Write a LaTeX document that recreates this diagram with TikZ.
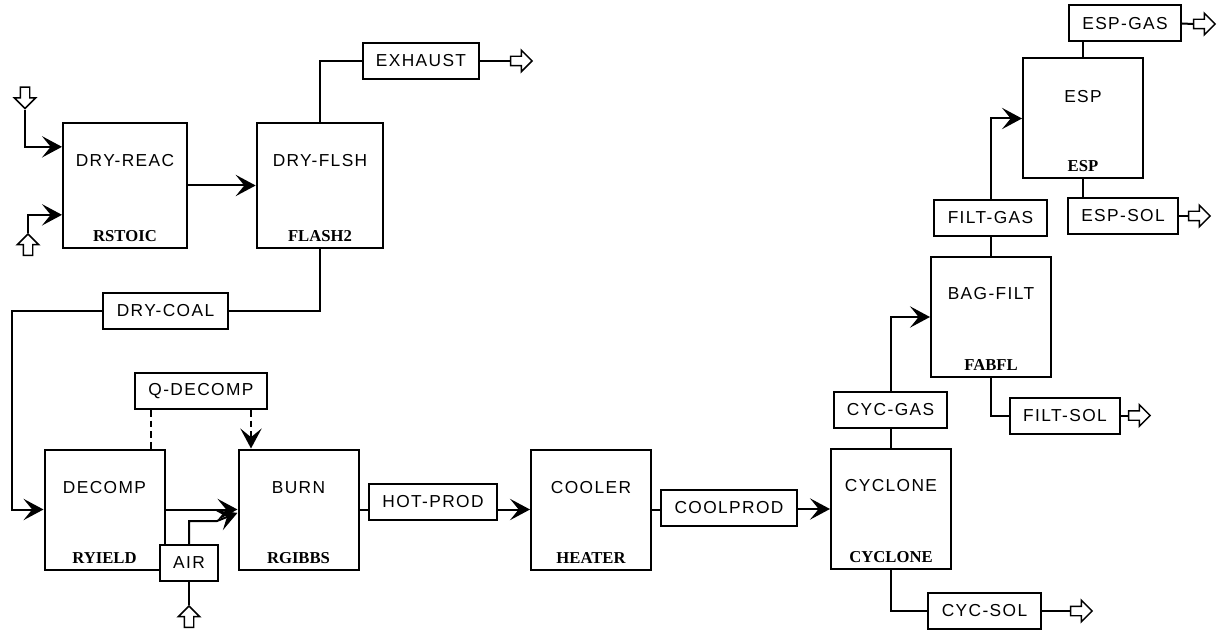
\documentclass[tikz,border=0pt]{standalone}
\usepackage{fontspec}
\usepackage{tikz}
\usetikzlibrary{arrows.meta,shapes.arrows,calc}
\newfontfamily\strmfont[LetterSpace=8]{Liberation Sans}
\newfontfamily\typefont{Liberation Serif}
\begin{document}
\begin{tikzpicture}[x=0.75pt,y=-0.75pt,>=Stealth,
  unit/.style={draw,line width=1.5pt,minimum width=90pt,minimum height=90pt,inner sep=0pt},
  strm/.style={draw,fill=white,line width=1.5pt,minimum height=27pt,inner xsep=10pt,inner ysep=0pt,font=\strmfont\fontsize{13}{15}\selectfont},
  uname/.style={inner sep=0pt,font=\strmfont\fontsize{13}{15}\selectfont},
  utype/.style={inner sep=0pt,font=\typefont\bfseries\fontsize{12.5}{14}\selectfont},
  line/.style={line width=1.5pt},
  flow/.style={line width=1.5pt,-{Stealth[length=15pt,width=16pt,inset=6.5pt]}},
  blk/.style={single arrow,draw,line width=1.1pt,fill=white,minimum height=16pt,inner xsep=0pt,inner ysep=3pt,single arrow head extend=4.5pt},
  every node/.style={inner sep=2pt}]
\useasboundingbox (0,0) rectangle (1225,631);
\node[unit,minimum width=93pt,minimum height=94pt] (dryreac) at (125,185.5) {};
\node[uname] at ([yshift=-29pt]dryreac.north) {DRY-REAC};
\node[utype] at ([yshift=10pt]dryreac.south) {RSTOIC};
\node[unit,minimum width=95pt,minimum height=94pt] (dryflsh) at (320,185.5) {};
\node[uname] at ([yshift=-29pt]dryflsh.north) {DRY-FLSH};
\node[utype] at ([yshift=10pt]dryflsh.south) {FLASH2};
\node[unit] (decomp) at (104.5,509.5) {};
\node[uname] at ([yshift=-29pt]decomp.north) {DECOMP};
\node[utype] at ([yshift=9.5pt]decomp.south) {RYIELD};
\node[unit] (burn) at (298.5,509.5) {};
\node[uname] at ([yshift=-29pt]burn.north) {BURN};
\node[utype] at ([yshift=9.5pt]burn.south) {RGIBBS};
\node[unit] (cooler) at (591,509.5) {};
\node[uname] at ([yshift=-29pt]cooler.north) {COOLER};
\node[utype] at ([yshift=9.5pt]cooler.south) {HEATER};
\node[unit] (cyclone) at (891,509) {};
\node[uname] at ([yshift=-28pt]cyclone.north) {CYCLONE};
\node[utype] at ([yshift=9.5pt]cyclone.south) {CYCLONE};
\node[unit] (bagfilt) at (991,317) {};
\node[uname] at ([yshift=-28pt]bagfilt.north) {BAG-FILT};
\node[utype] at ([yshift=9.5pt]bagfilt.south) {FABFL};
\node[unit] (esp) at (1083,118.5) {};
\node[uname] at ([yshift=-29pt]esp.north) {ESP};
\node[utype] at ([yshift=10pt]esp.south) {ESP};
\node[strm] (exhaust) at (421,61) {EXHAUST};
\node[strm] (drycoal) at (165.5,311) {DRY-COAL};
\node[strm] (qdecomp) at (201,391) {Q-DECOMP};
\node[strm] (air) at (189,563) {AIR};
\node[strm] (hotprod) at (433,501.5) {HOT-PROD};
\node[strm] (coolprod) at (729,508) {COOLPROD};
\node[strm] (cycgas) at (890.5,410) {CYC-GAS};
\node[strm] (cycsol) at (984.5,611) {CYC-SOL};
\node[strm] (filtgas) at (990.5,218) {FILT-GAS};
\node[strm] (filtsol) at (1065,415.5) {FILT-SOL};
\node[strm] (espgas) at (1125,23.5) {ESP-GAS};
\node[strm] (espsol) at (1123,216) {ESP-SOL};
\node[blk,rotate=-90] (feedtop) at (25,95.5) {};
\node[blk,rotate=90] (feedbot) at (28,247) {};
\node[blk,rotate=90] (airin) at (189,619) {};
\node[blk] (exout) at (519,61) {};
\node[blk] (espgasout) at (1202,24) {};
\node[blk] (espsolout) at (1197,216) {};
\node[blk] (filtsolout) at (1137,415.5) {};
\node[blk] (cycsolout) at (1079,611) {};
\draw[flow] (feedtop.tip) |- ([yshift=29pt]dryreac.west);
\draw[flow] (feedbot.tip) |- ([yshift=-22pt]dryreac.west);
\draw[flow] (dryreac.east) -- (dryflsh.west);
\draw[line] (dryflsh.north) |- (exhaust.west);
\draw[line] (exhaust.east) -- (exout.tail);
\draw[line] (dryflsh.south) |- (drycoal.east);
\draw[flow] (drycoal.west) -| ([xshift=-24pt]decomp.west) -- (decomp.west);
\draw[line,dashed,dash pattern=on 5pt off 3pt] ([xshift=-37.5pt]qdecomp.south) -- ([xshift=-37.5pt]qdecomp.south |- decomp.north);
\draw[flow,dashed,dash pattern=on 5pt off 3pt] ([xshift=37.5pt]qdecomp.south) -- ([xshift=37.5pt]qdecomp.south |- burn.north);
\draw[flow] (decomp.east) -- (burn.west);
\draw[line] (airin.tip) -- (air.south);
\draw[flow] (air.north) -- ++(0,-23) -- ++(28,0) -- ([yshift=-2.5pt]burn.west);
\node[strm] at (air) {AIR};
\draw[line] (burn.east) -- (burn.east -| hotprod.west);
\draw[flow] (hotprod.east |- cooler.west) -- (cooler.west);
\draw[line] (cooler.east) -- (cooler.east -| coolprod.west);
\draw[flow] (coolprod.east |- cyclone.west) -- (cyclone.west);
\draw[line] (cyclone.north) -- (cyclone.north |- cycgas.south);
\draw[flow] (cycgas.north) |- (bagfilt.west);
\draw[line] (bagfilt.north) -- (bagfilt.north |- filtgas.south);
\draw[flow] (filtgas.north) |- (esp.west);
\draw[line] (esp.north) -- (esp.north |- espgas.south);
\draw[line] (espgas.east) -- (espgasout.tail);
\draw[line] (esp.south) -- (esp.south |- espsol.north);
\draw[line] (espsol.east) -- (espsolout.tail);
\draw[line] (bagfilt.south) |- (filtsol.west);
\draw[line] (filtsol.east) -- (filtsolout.tail);
\draw[line] (cyclone.south) |- (cycsol.west);
\draw[line] (cycsol.east) -- (cycsolout.tail);
\end{tikzpicture}
\end{document}
